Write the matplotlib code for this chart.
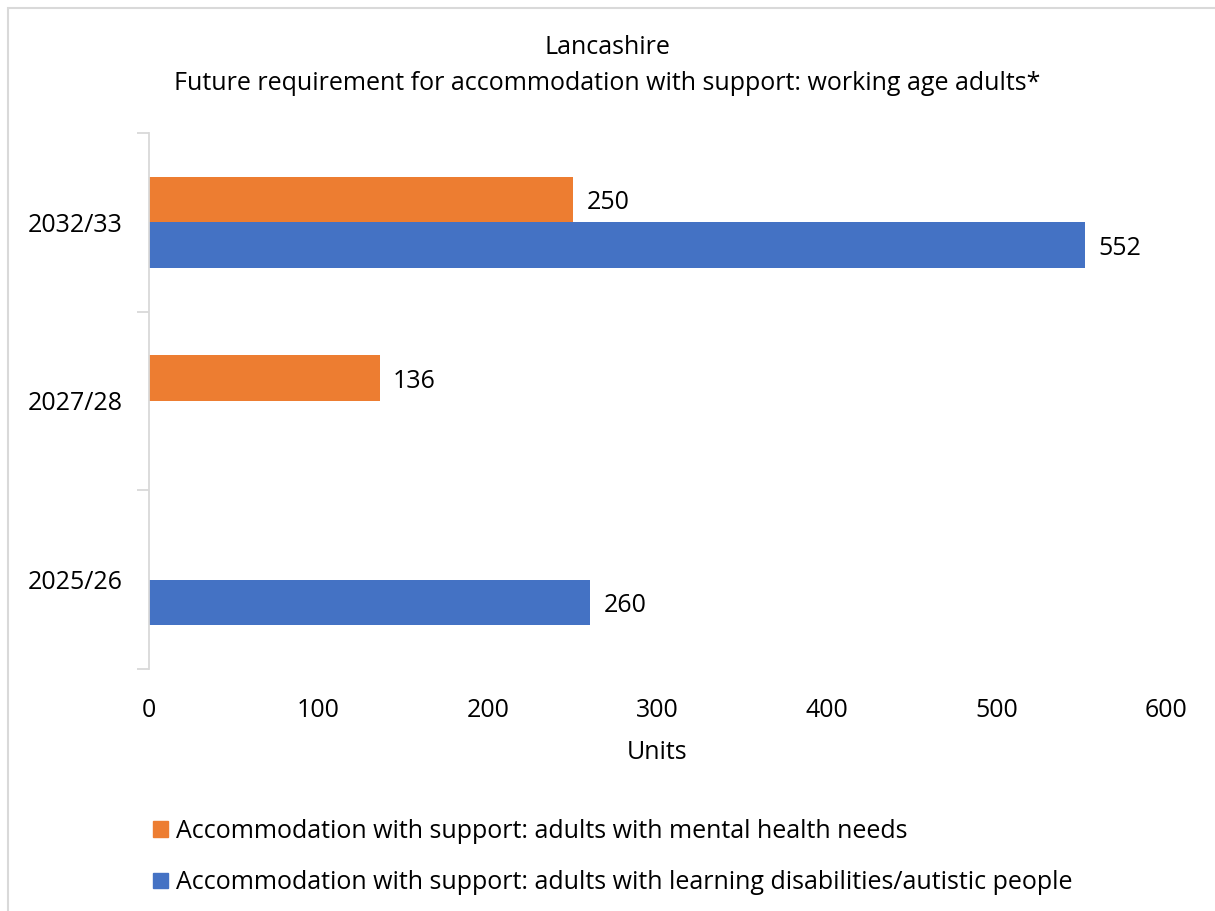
import numpy as np
import matplotlib
matplotlib.use("Agg")
import matplotlib.pyplot as plt
from matplotlib.patches import Rectangle

# data
years = ["2025/26", "2027/28", "2032/33"]
mental_health = [None, 136, 250]
learning_dis = [260, None, 552]
series_names = [
    "Accommodation with support: adults with mental health needs",
    "Accommodation with support: adults with learning disabilities/autistic people",
]
x_ticks = [0, 100, 200, 300, 400, 500, 600]

ORANGE = "#ED7D31"
BLUE = "#4472C4"
GREY = "#D9D9D9"

plt.rcParams["font.family"] = ["Open Sans", "DejaVu Sans"]
FS = 18

fig = plt.figure(figsize=(12.15, 9.11), dpi=100)
ax = fig.add_axes([149 / 1215, 1 - 669 / 911, (1166 - 149) / 1215, (669 - 133) / 911])

ypos = np.arange(len(years))
h = 0.257
off = 0.128
txt_dy = -0.018  # nudge value labels down a little, like the original

for y, v in zip(ypos, mental_health):
    if v is None:
        continue
    ax.barh(y + off, v, height=h, color=ORANGE)
    ax.text(v + 8, y + off + txt_dy, str(v), va="center", ha="left", fontsize=FS)
for y, v in zip(ypos, learning_dis):
    if v is None:
        continue
    ax.barh(y - off, v, height=h, color=BLUE)
    ax.text(v + 8, y - off + txt_dy, str(v), va="center", ha="left", fontsize=FS)

ax.set_xlim(0, 600)
ax.set_ylim(-0.5, len(years) - 0.5)
ax.set_xticks(x_ticks)
ax.set_xticklabels([str(t) for t in x_ticks], fontsize=FS)
ax.tick_params(axis="x", length=0, pad=21)

# category separators as major ticks, labels as minor ticks
ax.set_yticks(np.arange(-0.5, len(years), 1.0))
ax.set_yticklabels([])
ax.tick_params(axis="y", which="major", length=9, color=GREY, width=1.3)
ax.set_yticks(ypos, minor=True)
ax.set_yticklabels(years, minor=True, fontsize=FS)
ax.tick_params(axis="y", which="minor", length=0, pad=19)

for s in ["top", "right", "bottom"]:
    ax.spines[s].set_visible(False)
ax.spines["left"].set_color(GREY)
ax.spines["left"].set_linewidth(1.3)

ax.set_xlabel("Units", fontsize=FS, labelpad=12)

fig.text(0.5, 1 - 48 / 911, "Lancashire", ha="center", va="center", fontsize=FS)
fig.text(0.5, 1 - 84 / 911,
         "Future requirement for accommodation with support: working age adults*",
         ha="center", va="center", fontsize=FS)

handles = [Rectangle((0, 0), 1, 1, color=ORANGE), Rectangle((0, 0), 1, 1, color=BLUE)]
fig.legend(handles, series_names, loc="upper left",
           bbox_to_anchor=(143 / 1215, 1 - 809 / 911), frameon=False,
           fontsize=FS, handlelength=0.6, handleheight=0.6, handletextpad=0.3,
           labelspacing=1.05, borderaxespad=0)

# light outer border
fig.add_artist(Rectangle((8 / 1215, -0.1), 1.2, 1 - 8 / 911 + 0.1,
                         transform=fig.transFigure, fill=False,
                         edgecolor=GREY, linewidth=1.5))

fig.savefig("out.png", dpi=100, facecolor="white")
